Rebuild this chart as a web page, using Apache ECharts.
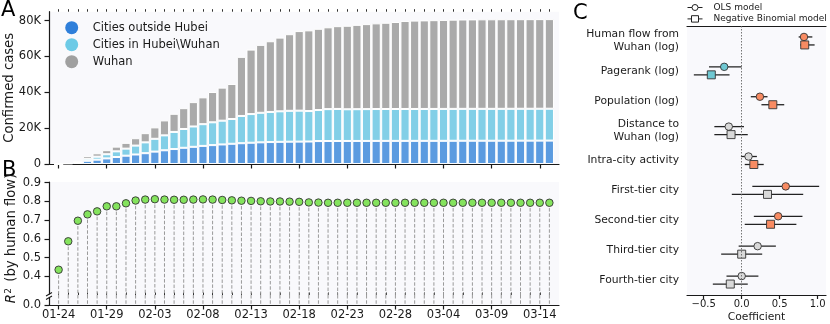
<!DOCTYPE html>
<html>
<head>
<meta charset="utf-8">
<script src="https://cdn.jsdelivr.net/npm/echarts@6/dist/echarts.min.js"></script>
<style>
html, body { margin: 0; padding: 0; background: #fff; }
#chart { width: 830px; height: 324px; }
</style>
</head>
<body>
<div id="chart"></div>
<script>
// dates on the x axis of panels A and B
const dates = [
  '01-24', '01-25', '01-26', '01-27', '01-28', '01-29', '01-30', '01-31',
  '02-01', '02-02', '02-03', '02-04', '02-05', '02-06', '02-07', '02-08', '02-09', '02-10',
  '02-11', '02-12', '02-13', '02-14', '02-15', '02-16', '02-17', '02-18', '02-19', '02-20',
  '02-21', '02-22', '02-23', '02-24', '02-25', '02-26', '02-27', '02-28', '02-29',
  '03-01', '03-02', '03-03', '03-04', '03-05', '03-06', '03-07', '03-08', '03-09', '03-10',
  '03-11', '03-12', '03-13', '03-14', '03-15'
];

// A: confirmed cases (stacked)
const outsideHubei = [
  0, 300, 1000, 1800, 2420, 3120, 3890, 4640, 5310, 6030, 6920, 7650, 8350, 9050, 9590, 10100,
  10540, 10910, 11290, 11600, 11870, 12090, 12250, 12370, 12450, 12500, 12550, 12800, 12830, 12850,
  12860, 12870, 12880, 12900, 12910, 12910, 12920, 12920, 12930, 12940, 12940, 12960, 12980, 12990,
  12990, 12990, 13000, 13010, 13030, 13030, 13050, 13070
];
const hubeiOther = [
  0, 0, 0, 1120, 1650, 2330, 3170, 3940, 4970, 6040, 7140, 8330, 9550, 10490, 11350, 12120,
  12730, 13270, 13810, 15210, 16000, 16490, 16790, 17030, 17240, 17270, 17000, 17320, 17790, 17880,
  17680, 17720, 17750, 17770, 17780, 17780, 17790, 17790, 17790, 17790, 17800, 17800, 17800, 17800,
  17800, 17800, 17800, 17800, 17800, 17800, 17800, 17790
];
const wuhan = [
  0, 0, 0, 1590, 1900, 2260, 2640, 3220, 4110, 5140, 6380, 8350, 10120, 11620, 13600, 14980,
  16900, 18450, 19560, 32990, 35990, 37910, 39460, 41150, 42750, 44410, 45030, 45350, 45660, 46200,
  46610, 47070, 47440, 47820, 48140, 48560, 49120, 49320, 49430, 49540, 49670, 49800, 49870, 49910,
  49950, 49970, 49980, 49990, 49990, 50000, 50000, 50000
];

// B: R^2 explained by human flow
const r2 = [
  0.435, 0.587, 0.697, 0.731, 0.747, 0.774, 0.774, 0.790, 0.805, 0.810, 0.812, 0.810, 0.809,
  0.809, 0.810, 0.811, 0.810, 0.808, 0.806, 0.804, 0.803, 0.801, 0.800, 0.800, 0.799, 0.798,
  0.795, 0.794, 0.793, 0.793, 0.793, 0.793, 0.793, 0.793, 0.793, 0.793, 0.793, 0.793, 0.793,
  0.793, 0.793, 0.793, 0.793, 0.793, 0.793, 0.793, 0.793, 0.793, 0.793, 0.793, 0.793, 0.793
];

// C: regression coefficients
const factors = [
  'Human flow from\nWuhan (log)', 'Pagerank (log)', 'Population (log)', 'Distance to\nWuhan (log)',
  'Intra-city activity', 'First-tier city', 'Second-tier city', 'Third-tier city', 'Fourth-tier city'
];
const olsCoef = [0.82, -0.23, 0.24, -0.17, 0.09, 0.58, 0.48, 0.21, 0.00];
const olsLow  = [0.75, -0.43, 0.12, -0.36, -0.01, 0.14, 0.16, -0.04, -0.20];
const olsHigh = [0.93, 0.00, 0.34, 0.03, 0.20, 1.02, 0.80, 0.45, 0.22];
const olsSign = ['pos', 'neg', 'pos', 'ns', 'ns', 'pos', 'pos', 'ns', 'ns'];
const nbCoef = [0.83, -0.40, 0.41, -0.14, 0.16, 0.34, 0.38, 0.00, -0.15];
const nbLow  = [0.77, -0.63, 0.26, -0.36, 0.04, -0.13, 0.04, -0.27, -0.38];
const nbHigh = [0.96, -0.16, 0.56, 0.08, 0.29, 0.81, 0.72, 0.27, 0.08];
const nbSign = ['pos', 'neg', 'pos', 'ns', 'pos', 'ns', 'pos', 'ns', 'ns'];

const FONT = 'DejaVu Sans';
const INK = '#1a1a1a';
const PLOT_BG = '#f9f9fc';
const R2_MIN = 0.3;       // bottom of the upper part of panel B
const R2_LOW_MAX = 0.0534; // top of the small 0.0 strip below the break
const signColor = { pos: '#f88b62', neg: '#6fc8d2', ns: '#d9d9d9' };

const dayIdx = dates.map((d, i) => i);
const majorTicks = dayIdx.filter(i => i % 5 === 0);
// hidden category axis for the bars: one empty slot on each side
const barSlots = ['01-23'].concat(dates, ['03-16']);

const axisLineStyle = { show: true, onZero: false, lineStyle: { color: INK, width: 1.2 } };

function dayAxis(grid, opts) {
  return Object.assign({
    type: 'value', gridIndex: grid, min: -1, max: 52,
    splitLine: { show: false },
    axisLine: axisLineStyle,
    axisTick: { show: true, customValues: majorTicks, length: 4.5, lineStyle: { color: INK, width: 1.2 } },
    axisLabel: { show: false }
  }, opts);
}
function minorAxis(grid) {
  return {
    type: 'value', gridIndex: grid, min: -1, max: 52,
    splitLine: { show: false },
    axisLine: { show: false, onZero: false },
    axisTick: { show: true, customValues: dayIdx, length: 2.5, lineStyle: { color: INK, width: 0.9 } },
    axisLabel: { show: false }
  };
}

function stemUpper(params, api) {
  const x = api.value(0);
  const p = api.coord([x, api.value(1)]);
  const b = api.coord([x, R2_MIN]);
  return { type: 'line', shape: { x1: p[0], y1: p[1], x2: b[0], y2: b[1] },
    style: { stroke: '#9a9a9a', lineWidth: 1, lineDash: [3.5, 1.8] } };
}
function stemLower(params, api) {
  const x = api.value(0);
  const p = api.coord([x, R2_LOW_MAX]);
  const b = api.coord([x, 0]);
  return { type: 'line', shape: { x1: p[0], y1: p[1], x2: b[0], y2: b[1] },
    style: { stroke: '#9a9a9a', lineWidth: 1, lineDash: [3.5, 1.8] } };
}
function errBar(shift) {
  return function (params, api) {
    const y = api.value(2);
    const a = api.coord([api.value(0), y]);
    const b = api.coord([api.value(1), y]);
    return { type: 'line', z2: 1, shape: { x1: a[0], y1: a[1] + shift, x2: b[0], y2: b[1] + shift },
      style: { stroke: '#222', lineWidth: 1.3 } };
  };
}

const chart = echarts.init(document.getElementById('chart'), null, { renderer: 'canvas' });

function plotGrid(left, top, width, height) {
  return { left: left, top: top, width: width, height: height, show: true, backgroundColor: PLOT_BG,
    borderWidth: 0, containLabel: false, outerBoundsMode: 'none' };
}

const option = {
  backgroundColor: '#fff',
  animation: false,
  textStyle: { fontFamily: FONT, color: INK },
  grid: [
    plotGrid(49, 11.7, 510, 152.3),
    plotGrid(49, 182, 510, 113),
    plotGrid(49, 295, 510, 10),
    plotGrid(687, 26, 139, 269)
  ],
  legend: [{
    data: [
      { name: 'Cities outside Hubei', itemStyle: { color: '#2f7fda', borderWidth: 0 } },
      { name: 'Cities in Hubei\\Wuhan', itemStyle: { color: '#6dcae6', borderWidth: 0 } },
      { name: 'Wuhan', itemStyle: { color: '#a0a0a0', borderWidth: 0 } }
    ],
    orient: 'vertical', left: 65.2, top: 21.2, padding: 0,
    icon: 'circle', itemWidth: 13, itemHeight: 13, itemGap: 4,
    textStyle: { fontFamily: FONT, fontSize: 11.5, color: INK, lineHeight: 13, padding: [0, 0, 0, 9.5] }
  }, {
    data: [
      { name: 'OLS model', icon: 'path://M0,5H4.5M10.5,5H15M4.5,5A3,3 0 1,1 10.5,5A3,3 0 1,1 4.5,5Z',
        itemStyle: { color: '#fff', borderColor: '#222', borderWidth: 1 } },
      { name: 'Negative Binomial model', icon: 'path://M0,5H4M11,5H15M4,1.8H11V8.2H4Z',
        itemStyle: { color: '#fff', borderColor: '#222', borderWidth: 1 } }
    ],
    orient: 'vertical', left: 687, top: 3, padding: 0,
    itemWidth: 15, itemHeight: 7, itemGap: 2.4,
    textStyle: { fontFamily: FONT, fontSize: 9, color: INK, lineHeight: 7, padding: [0, 0, 0, 6] }
  }],
  xAxis: [
    dayAxis(0, {}),
    minorAxis(0),
    Object.assign(dayAxis(1, {}), { show: false }),
    dayAxis(2, {
      axisLabel: { show: true, customValues: majorTicks, margin: 4, fontSize: 11.5, color: INK, fontFamily: FONT,
        formatter: v => dates[Math.round(v)] }
    }),
    minorAxis(2),
    {
      type: 'value', gridIndex: 3, min: -0.72, max: 1.11,
      splitLine: { show: false },
      axisLine: axisLineStyle,
      axisTick: { show: true, customValues: [-0.5, 0, 0.5, 1], length: 4, lineStyle: { color: INK, width: 1.2 } },
      axisLabel: { customValues: [-0.5, 0, 0.5, 1], margin: 4.5, fontSize: 10, color: INK, fontFamily: FONT,
        formatter: v => (v < 0 ? '\u2212' : '') + Math.abs(v).toFixed(1) },
      name: 'Coefficient', nameLocation: 'middle', nameGap: 17, nameMoveOverlap: false,
      nameTextStyle: { fontSize: 10.75, color: INK, fontFamily: FONT }
    },
    {
      type: 'value', gridIndex: 3, position: 'top', min: -0.72, max: 1.11,
      splitLine: { show: false }, axisTick: { show: false }, axisLabel: { show: false },
      axisLine: axisLineStyle
    },
    {
      type: 'category', gridIndex: 0, data: barSlots, boundaryGap: false, show: false,
      axisLine: { show: false, onZero: false }
    }
  ],
  yAxis: [
    {
      type: 'value', gridIndex: 0, min: 0, max: 85000,
      splitLine: { show: false },
      axisLine: axisLineStyle,
      axisTick: { show: true, customValues: [0, 20000, 40000, 60000, 80000], length: 4.5, lineStyle: { color: INK, width: 1.2 } },
      axisLabel: { customValues: [0, 20000, 40000, 60000, 80000], margin: 8, fontSize: 11.5, color: INK, fontFamily: FONT,
        formatter: v => (v === 0 ? '0' : v / 1000 + 'K') },
      name: 'Confirmed cases', nameLocation: 'middle', nameGap: 32, nameMoveOverlap: false,
      nameTextStyle: { fontSize: 13.2, color: INK, fontFamily: FONT, lineHeight: 15 }
    },
    {
      type: 'value', gridIndex: 1, min: R2_MIN, max: 0.904,
      splitLine: { show: false },
      axisLine: axisLineStyle,
      axisTick: { show: true, customValues: [0.4, 0.5, 0.6, 0.7, 0.8, 0.9], length: 4.5, lineStyle: { color: INK, width: 1.2 } },
      axisLabel: { customValues: [0.4, 0.5, 0.6, 0.7, 0.8, 0.9], margin: 8, fontSize: 11.5, color: INK, fontFamily: FONT,
        formatter: v => v.toFixed(1) },
      name: '{i|R}{s|2} (by human flow)', nameLocation: 'middle', nameGap: 29, nameMoveOverlap: false,
      nameTextStyle: { fontSize: 13.2, color: INK, fontFamily: FONT, lineHeight: 16,
        rich: {
          i: { fontStyle: 'italic', fontSize: 13.2, fontFamily: FONT, color: INK, lineHeight: 16, padding: [0, 0.5, 0, 0] },
          s: { fontSize: 9, fontFamily: FONT, color: INK, verticalAlign: 'top', lineHeight: 10, padding: [0, 2, 0, 0] }
        } }
    },
    {
      // the 0.0 tick label of this strip is drawn as a graphic text below
      type: 'value', gridIndex: 2, min: 0, max: R2_LOW_MAX,
      splitLine: { show: false },
      axisLine: axisLineStyle,
      axisTick: { show: true, customValues: [0], length: 4.5, lineStyle: { color: INK, width: 1.2 } },
      axisLabel: { show: false }
    },
    {
      type: 'category', gridIndex: 3, data: factors, inverse: true,
      axisLine: { show: false, onZero: false }, axisTick: { show: false }, splitLine: { show: false },
      axisLabel: { margin: 8, fontSize: 10.75, lineHeight: 12.7, color: INK, fontFamily: FONT, align: 'right' }
    }
  ],
  graphic: [
    { type: 'text', left: 1, top: 0, style: { text: 'A', font: '21px "DejaVu Sans"', fill: '#000' } },
    { type: 'text', left: 2, top: 160, style: { text: 'B', font: '21px "DejaVu Sans"', fill: '#000' } },
    { type: 'text', left: 573, top: 3, style: { text: 'C', font: '21px "DejaVu Sans"', fill: '#000' } },
    { type: 'text', x: 41, y: 305, z: 50,
      style: { text: '0.0', align: 'right', verticalAlign: 'middle', font: '11.5px "DejaVu Sans"', fill: INK } },
    // axis break marks on panel B
    { type: 'rect', shape: { x: 46, y: 294.5, width: 5, height: 3 }, style: { fill: '#fff' }, z: 100 },
    { type: 'line', shape: { x1: 46, y1: 296, x2: 52, y2: 292.5 }, style: { stroke: INK, lineWidth: 1.1 }, z: 101 },
    { type: 'line', shape: { x1: 46, y1: 299.5, x2: 52, y2: 296 }, style: { stroke: INK, lineWidth: 1.1 }, z: 101 }
  ],
  series: [
    {
      name: 'Cities outside Hubei', type: 'bar', stack: 'cases', xAxisIndex: 7, yAxisIndex: 0,
      barWidth: 9.2, data: outsideHubei.map((v, i) => [dates[i], v]),
      itemStyle: { color: '#5b9be0', borderColor: '#fff', borderWidth: 1 }
    },
    {
      name: 'Cities in Hubei\\Wuhan', type: 'bar', stack: 'cases', xAxisIndex: 7, yAxisIndex: 0,
      barWidth: 9.2, data: hubeiOther.map((v, i) => [dates[i], v]),
      itemStyle: { color: '#82cfe7', borderColor: '#fff', borderWidth: 1 }
    },
    {
      name: 'Wuhan', type: 'bar', stack: 'cases', xAxisIndex: 7, yAxisIndex: 0,
      barWidth: 9.2, data: wuhan.map((v, i) => [dates[i], v]),
      itemStyle: { color: '#aaaaaa', borderColor: '#fff', borderWidth: 1 }
    },
    {
      type: 'custom', xAxisIndex: 2, yAxisIndex: 1, renderItem: stemUpper,
      data: r2.map((v, i) => [i, v]), silent: true, z: 1
    },
    {
      type: 'custom', xAxisIndex: 3, yAxisIndex: 2, renderItem: stemLower,
      data: r2.map((v, i) => [i, v]), silent: true, z: 1
    },
    {
      type: 'scatter', xAxisIndex: 2, yAxisIndex: 1, symbol: 'circle', symbolSize: 7.5,
      data: r2.map((v, i) => [i, v]), z: 3,
      itemStyle: { color: '#84e35d', borderColor: '#333', borderWidth: 0.9, opacity: 1 }
    },
    {
      type: 'custom', xAxisIndex: 5, yAxisIndex: 3, renderItem: errBar(-4),
      encode: { x: [0, 1], y: 2 },
      data: olsLow.map((v, i) => [v, olsHigh[i], i]), silent: true, z: 2
    },
    {
      type: 'custom', xAxisIndex: 5, yAxisIndex: 3, renderItem: errBar(4),
      encode: { x: [0, 1], y: 2 },
      data: nbLow.map((v, i) => [v, nbHigh[i], i]), silent: true, z: 2
    },
    {
      name: 'OLS model', type: 'scatter', xAxisIndex: 5, yAxisIndex: 3, symbol: 'circle', symbolSize: 7.5,
      symbolOffset: [0, -4], z: 4,
      data: olsCoef.map((v, i) => ({ value: [v, i], itemStyle: { color: signColor[olsSign[i]] } })),
      itemStyle: { borderColor: '#333', borderWidth: 0.9, opacity: 1 },
      markLine: {
        silent: true, symbol: ['none', 'none'], label: { show: false },
        lineStyle: { color: '#666', type: [1.5, 1.5], width: 0.9 },
        data: [{ xAxis: 0 }]
      }
    },
    {
      name: 'Negative Binomial model', type: 'scatter', xAxisIndex: 5, yAxisIndex: 3, symbol: 'rect', symbolSize: 8,
      symbolOffset: [0, 4], z: 4,
      data: nbCoef.map((v, i) => ({ value: [v, i], itemStyle: { color: signColor[nbSign[i]] } })),
      itemStyle: { borderColor: '#333', borderWidth: 0.9, opacity: 1 }
    }
  ]
};

chart.setOption(option);
</script>
</body>
</html>
